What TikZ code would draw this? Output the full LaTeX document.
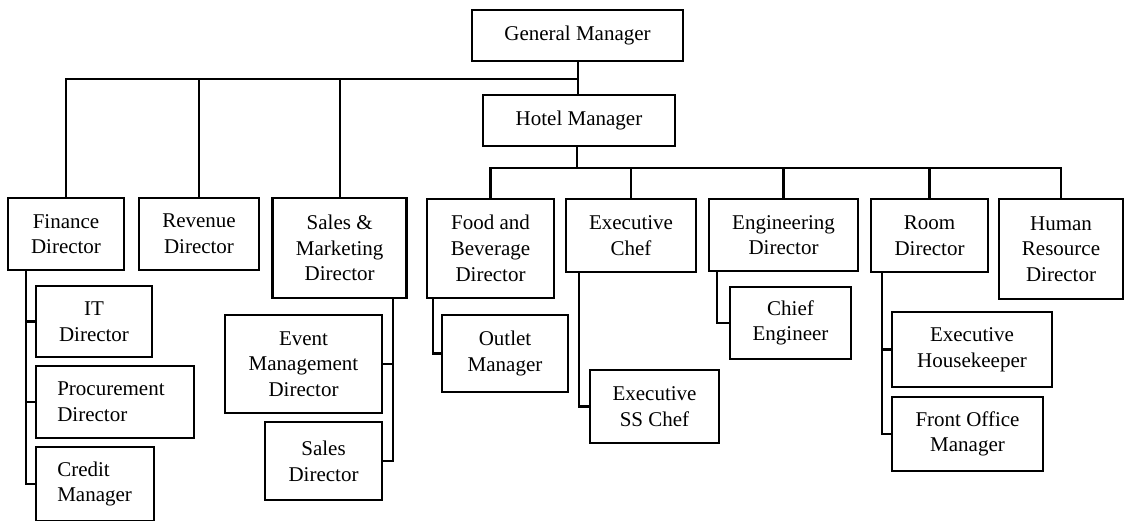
\documentclass[tikz,border=0pt]{standalone}
\usepackage{fontspec}
\setmainfont{Liberation Serif}
\begin{document}
\begin{tikzpicture}[x=1pt,y=-1pt,
  box/.style={draw=black,line width=2.7pt,inner sep=0pt,align=center,
    font=\fontsize{21}{25.7}\selectfont},
  lbox/.style={box,align=left,inner xsep=21.3pt},
  ln/.style={draw=black,line width=2.3pt}]
\useasboundingbox (0,0) rectangle (1125,520);
\clip (0,0) rectangle (1125,520);
% top
\node[box,minimum width=211pt,minimum height=51pt] (gm) at (577.5,35.5) {General Manager};
\node[box,minimum width=192pt,minimum height=51pt] (hm) at (579,120.5) {Hotel Manager};
% first row
\node[box,minimum width=116pt,minimum height=72pt] (fin) at (66,234) {Finance\\Director};
\node[box,minimum width=120pt,minimum height=72pt] (rev) at (199,234) {Revenue\\Director};
\node[box,minimum width=134pt,minimum height=100pt] (smd) at (339.7,248) {Sales \&\\Marketing\\Director};
\node[box,minimum width=127pt,minimum height=99pt] (fbd) at (490.5,248.5) {Food and\\Beverage\\Director};
\node[box,minimum width=130pt,minimum height=73pt] (ecf) at (631,235.5) {Executive\\Chef};
\node[box,minimum width=149pt,minimum height=72pt] (eng) at (783.5,235) {Engineering\\Director};
\node[box,minimum width=117pt,minimum height=73pt] (room) at (929.5,235.5) {Room\\Director};
\node[box,minimum width=124pt,minimum height=100pt] (hr) at (1061,249) {Human\\Resource\\Director};
% sub boxes
\node[box,minimum width=116pt,minimum height=71pt] (it) at (94,321.5) {IT\\Director};
\node[lbox,text width=115.4pt,minimum height=72pt] (pro) at (115,402) {Procurement\\Director};
\node[lbox,text width=75.4pt,minimum height=74pt] (cr) at (95,484) {Credit\\Manager};
\node[box,minimum width=157pt,minimum height=98pt] (evt) at (303.5,364) {Event\\Management\\Director};
\node[box,minimum width=117pt,minimum height=78pt] (sd) at (323.5,461) {Sales\\Director};
\node[box,minimum width=126pt,minimum height=77pt] (out) at (505,353.5) {Outlet\\Manager};
\node[box,minimum width=129pt,minimum height=73pt] (ess) at (654.5,406.5) {Executive\\SS Chef};
\node[box,minimum width=121pt,minimum height=72pt] (ce) at (790.5,323) {Chief\\Engineer};
\node[box,minimum width=160pt,minimum height=75pt] (eh) at (972,349.5) {Executive\\Housekeeper};
\node[box,minimum width=151pt,minimum height=74pt] (fo) at (967.5,434) {Front Office\\Manager};
% junction coordinates
\coordinate (lbr) at (578,79);
\coordinate (rbr) at (577,168);
\coordinate (finx) at (26,0);
\coordinate (smdx) at (392.7,0);
\coordinate (fbdx) at (433,0);
\coordinate (ecfx) at (579,0);
\coordinate (engx) at (717,0);
\coordinate (roomx) at (882,0);
% top connectors
\draw[ln] (gm.south -| lbr) -- (hm.north -| lbr);
\draw[ln] (lbr) -| (fin.north);
\draw[ln] (rev.north) -- (rev.north |- lbr);
\draw[ln] (smd.north) -- (smd.north |- lbr);
\draw[ln] (hm.south -| rbr) -- (rbr);
\draw[ln] (fbd.north) |- (hr.north |- rbr) -- (hr.north);
\draw[ln] (ecf.north) -- (ecf.north |- rbr);
\draw[ln] (eng.north) -- (eng.north |- rbr);
\draw[ln] (room.north) -- (room.north |- rbr);
% finance subtree
\draw[ln] (fin.south -| finx) |- (cr.west);
\draw[ln] (it.west -| finx) -- (it.west);
\draw[ln] (pro.west -| finx) -- (pro.west);
% sales subtree
\draw[ln] (smd.south -| smdx) |- (sd.east);
\draw[ln] (evt.east -| smdx) -- (evt.east);
% food subtree
\draw[ln] (fbd.south -| fbdx) |- (out.west);
% exec chef subtree
\draw[ln] (ecf.south -| ecfx) |- (ess.west);
% engineering subtree
\draw[ln] (eng.south -| engx) |- (ce.west);
% room subtree
\draw[ln] (room.south -| roomx) |- (fo.west);
\draw[ln] (eh.west -| roomx) -- (eh.west);
\end{tikzpicture}
\end{document}
